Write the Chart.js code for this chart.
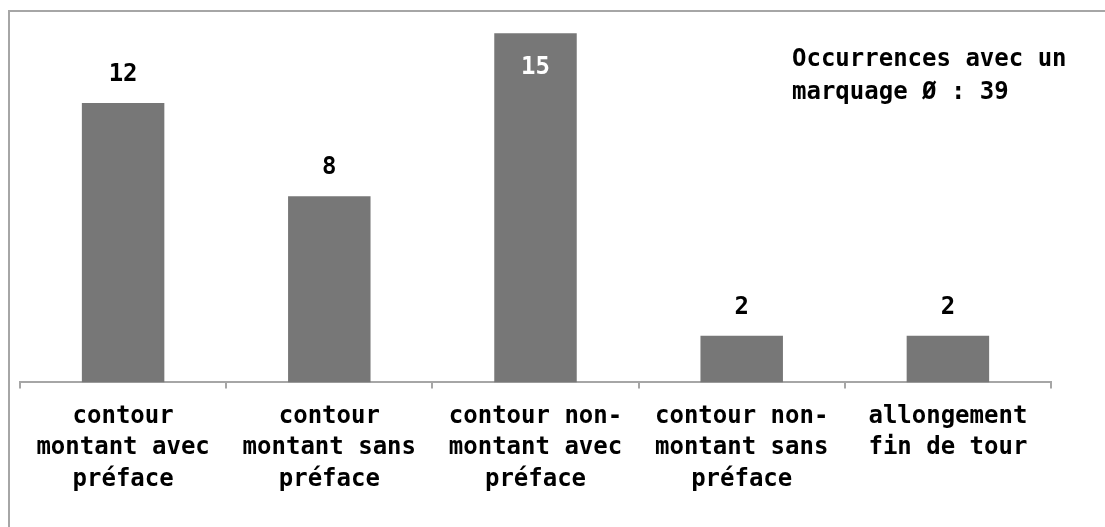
<!DOCTYPE html>
<html>
<head>
<meta charset="utf-8">
<script src="https://cdn.jsdelivr.net/npm/chart.js@4/dist/chart.umd.min.js"></script>
<style>
  html, body { margin: 0; padding: 0; background: #fff; }
  #wrap { width: 1105px; height: 527px; position: relative; }
</style>
</head>
<body>
<div id="wrap"><canvas id="bar-chart" width="1105" height="527"></canvas></div>
<script>
(function () {
    "use strict";

    // data
    const categories = [
        ["contour", "montant avec", "préface"],
        ["contour", "montant sans", "préface"],
        ["contour non-", "montant avec", "préface"],
        ["contour non-", "montant sans", "préface"],
        ["allongement", "fin de tour"]
    ];
    const occurrences = [12, 8, 15, 2, 2];
    const noteLines = ["Occurrences avec un", "marquage \u00d8 : 39"];

    const monoFont = "'DejaVu Sans Mono', 'Liberation Mono', monospace";

    // frame around the whole chart (runs off the right and bottom edge)
    const framePlugin = {
        id: "frame",
        beforeDraw(chart) {
            const ctx = chart.ctx;
            ctx.save();
            ctx.strokeStyle = "#a6a6a6";
            ctx.lineWidth = 2;
            ctx.strokeRect(9, 11, 1200, 600);
            ctx.restore();
        }
    };

    // value labels above the bars, inside (white) when no room above
    const valuePlugin = {
        id: "values",
        afterDatasetsDraw(chart) {
            const ctx = chart.ctx;
            const meta = chart.getDatasetMeta(0);
            ctx.save();
            ctx.font = "bold 24px " + monoFont;
            ctx.textAlign = "center";
            ctx.textBaseline = "middle";
            meta.data.forEach(function (bar, i) {
                var y = bar.y - 28;
                var color = "#000";
                if (y - 12 < chart.chartArea.top + 20) {
                    y = bar.y + 34;
                    color = "#fff";
                }
                ctx.fillStyle = color;
                ctx.fillText(String(occurrences[i]), bar.x, y);
            });
            // note in the top right corner
            ctx.fillStyle = "#000";
            ctx.textAlign = "left";
            noteLines.forEach(function (line, i) {
                ctx.fillText(line, 792, 60 + i * 33);
            });
            ctx.restore();
        }
    };

    var ctx = document.getElementById("bar-chart").getContext("2d");
    new Chart(ctx, {
        type: "bar",
        data: {
            labels: categories,
            datasets: [{
                data: occurrences,
                backgroundColor: "#777777",
                borderWidth: 0,
                categoryPercentage: 1,
                barPercentage: 0.4
            }]
        },
        options: {
            responsive: false,
            animation: false,
            layout: { padding: { left: 20, right: 54, top: 10, bottom: 19 } },
            plugins: {
                legend: { display: false },
                tooltip: { enabled: false }
            },
            scales: {
                x: {
                    offset: true,
                    grid: {
                        offset: true,
                        drawOnChartArea: false,
                        drawTicks: true,
                        tickLength: 6,
                        color: "#a6a6a6",
                        lineWidth: 2
                    },
                    border: { display: true, color: "#a6a6a6", width: 2 },
                    ticks: {
                        color: "#000",
                        maxRotation: 0,
                        autoSkip: false,
                        padding: 13,
                        font: { family: monoFont, size: 24, weight: "bold", lineHeight: 1.3 }
                    }
                },
                y: {
                    display: false,
                    min: 0,
                    max: 16
                }
            }
        },
        plugins: [framePlugin, valuePlugin]
    });

})();
</script>
</body>
</html>
